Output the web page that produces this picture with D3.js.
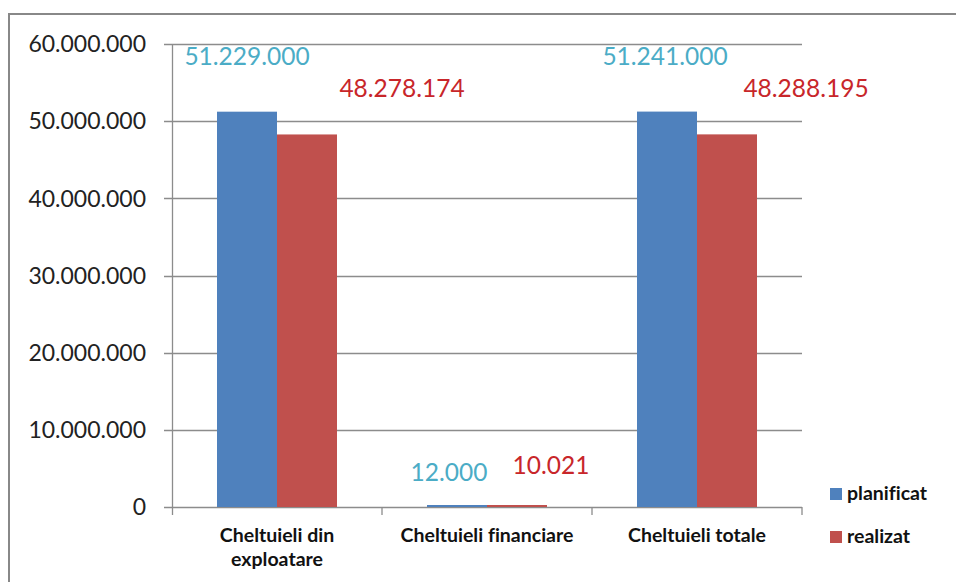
<!DOCTYPE html>
<html>
<head>
<meta charset="utf-8">
<script src="https://cdn.jsdelivr.net/npm/d3@7"></script>
<style>
  html, body { margin: 0; padding: 0; background: #fff; }
  svg { display: block; font-family: Lato, "Open Sans", sans-serif; font-variant-ligatures: none; }
</style>
</head>
<body>
<div id="chart"></div>
<script>
// data
const categories = ["Cheltuieli din exploatare", "Cheltuieli financiare", "Cheltuieli totale"];
const seriesNames = ["planificat", "realizat"];
const planificat = [51229000, 12000, 51241000];
const realizat = [48278174, 10021, 48288195];
const yTicks = [0, 10000000, 20000000, 30000000, 40000000, 50000000, 60000000];

// labels were dragged by hand in the original, so keep the nudges apart
const labelNudge = {
    planificat: [[0, -47], [-8, -26], [-2, -47]],
    realizat: [[95, -37], [34, -33], [79, -37]]
};

const W = 956, H = 582;
const margin = {top: 44, right: 154, bottom: 75, left: 172};
const colors = {planificat: "#4f81bd", realizat: "#c0504d"};
const labelColors = {planificat: "#4bacc6", realizat: "#c8262a"};
const gridColor = "#8c8c8c";

const ro = d3.formatLocale({decimal: ",", thousands: ".", grouping: [3], currency: ["", ""]});
const fmt = ro.format(",.0f");

const svg = d3.select("#chart").append("svg")
    .attr("width", W)
    .attr("height", H);

// chart frame (runs past the photo on the right and bottom)
svg.append("rect")
    .attr("x", 9).attr("y", 14)
    .attr("width", 1200).attr("height", 1200)
    .attr("fill", "none")
    .attr("stroke", "#888")
    .attr("stroke-width", 2);

const width = W - margin.left - margin.right;
const height = H - margin.top - margin.bottom;

const g = svg.append("g").attr("transform", `translate(${margin.left},${margin.top})`);

const x0 = d3.scaleBand().domain(categories).range([0, width]).paddingInner(0).paddingOuter(0);
const x1 = d3.scaleBand().domain(seriesNames).range([0, x0.bandwidth()]).paddingInner(0).paddingOuter(0.75);
const y = d3.scaleLinear().domain([0, 60000000]).range([height, 0]);

// gridlines
g.append("g")
    .selectAll("line")
    .data(yTicks)
    .join("line")
    .attr("x1", -8).attr("x2", width)
    .attr("y1", d => Math.round(y(d)) + 0.5)
    .attr("y2", d => Math.round(y(d)) + 0.5)
    .attr("stroke", gridColor)
    .attr("stroke-width", 1.3);

// y axis labels
g.append("g")
    .selectAll("text")
    .data(yTicks)
    .join("text")
    .attr("x", -26)
    .attr("y", d => y(d))
    .attr("dy", "0.36em")
    .attr("text-anchor", "end")
    .attr("font-size", 23)
    .attr("fill", "#222")
    .text(d => fmt(d));

// y axis line
g.append("line")
    .attr("x1", 0.5).attr("x2", 0.5)
    .attr("y1", 0).attr("y2", height + 8)
    .attr("stroke", gridColor)
    .attr("stroke-width", 1.3);

// category separator ticks
g.append("g")
    .selectAll("line")
    .data(categories.slice(1).concat([null]))
    .join("line")
    .attr("x1", d => d ? x0(d) : width)
    .attr("x2", d => d ? x0(d) : width)
    .attr("y1", height).attr("y2", height + 8)
    .attr("stroke", gridColor)
    .attr("stroke-width", 1.3);

const rows = categories.map((c, i) => ({
    cat: c,
    values: [
        {key: "planificat", value: planificat[i], i: i},
        {key: "realizat", value: realizat[i], i: i}
    ]
}));

const groups = g.selectAll(".grp")
    .data(rows)
    .join("g")
    .attr("class", "grp")
    .attr("transform", d => `translate(${x0(d.cat)},0)`);

groups.selectAll("rect")
    .data(d => d.values)
    .join("rect")
    .attr("x", d => x1(d.key))
    .attr("width", x1.bandwidth())
    .attr("y", d => Math.min(y(d.value), height - 2))
    .attr("height", d => Math.max(height - y(d.value), 2))
    .attr("fill", d => colors[d.key]);

groups.selectAll(".value")
    .data(d => d.values)
    .join("text")
    .attr("class", "value")
    .attr("x", d => x1(d.key) + x1.bandwidth() / 2 + labelNudge[d.key][d.i][0])
    .attr("y", d => y(d.value) + labelNudge[d.key][d.i][1])
    .attr("text-anchor", "middle")
    .attr("font-size", 24.5)
    .attr("fill", d => labelColors[d.key])
    .text(d => fmt(d.value));

// category labels, wrapped like the original
const catLines = {
    "Cheltuieli din exploatare": ["Cheltuieli din", "exploatare"],
    "Cheltuieli financiare": ["Cheltuieli financiare"],
    "Cheltuieli totale": ["Cheltuieli totale"]
};

g.append("g")
    .selectAll("text")
    .data(categories)
    .join("text")
    .attr("x", d => x0(d) + x0.bandwidth() / 2)
    .attr("y", height + 35)
    .attr("text-anchor", "middle")
    .attr("font-size", 19.5)
    .attr("font-weight", "bold")
    .attr("fill", "#111")
    .each(function(d) {
        d3.select(this).selectAll("tspan")
            .data(catLines[d])
            .join("tspan")
            .attr("x", x0(d) + x0.bandwidth() / 2)
            .attr("dy", (t, k) => k === 0 ? 0 : 24)
            .text(t => t);
    });

// legend
const legend = svg.append("g").attr("transform", "translate(830,488)");
const li = legend.selectAll("g")
    .data(seriesNames)
    .join("g")
    .attr("transform", (d, i) => `translate(0,${i * 43})`);
li.append("rect")
    .attr("width", 12).attr("height", 12)
    .attr("fill", d => colors[d]);
li.append("text")
    .attr("x", 17).attr("y", 12)
    .attr("font-size", 19.5)
    .attr("font-weight", "bold")
    .attr("fill", "#111")
    .text(d => d);
</script>
</body>
</html>
